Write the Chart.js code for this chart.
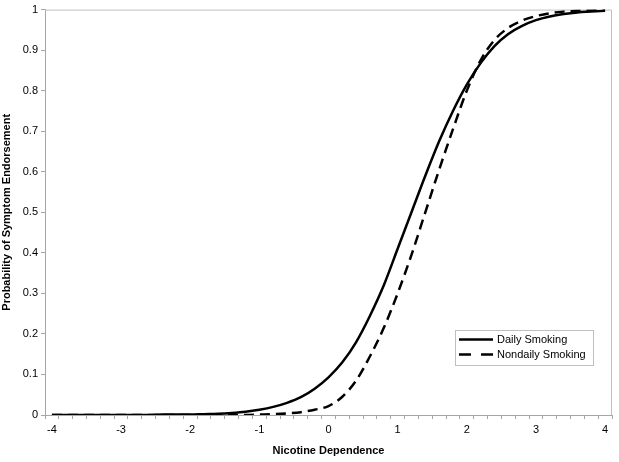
<!DOCTYPE html>
<html>
<head>
<meta charset="utf-8">
<script src="https://cdn.jsdelivr.net/npm/chart.js@4/dist/chart.umd.min.js"></script>
<style>
    html, body { margin: 0; padding: 0; background: #fff; }
    #wrap { width: 619px; height: 462px; position: relative; }
</style>
</head>
<body>
<div id="wrap"><canvas id="curveChart"></canvas></div>
<script>
// categories on the x axis (nicotine dependence, step 0.2)
const categories = [
    -4, -3.8, -3.6, -3.4, -3.2, -3, -2.8, -2.6, -2.4, -2.2,
    -2, -1.8, -1.6, -1.4, -1.2, -1, -0.8, -0.6, -0.4, -0.2,
    0, 0.2, 0.4, 0.6, 0.8, 1, 1.2, 1.4, 1.6, 1.8,
    2, 2.2, 2.4, 2.6, 2.8, 3, 3.2, 3.4, 3.6, 3.8, 4
];

// probability of symptom endorsement
const dailySmoking = [
    0.000, 0.000, 0.000, 0.000, 0.000, 0.000, 0.000, 0.000, 0.001, 0.001,
    0.001, 0.002, 0.003, 0.005, 0.008, 0.013, 0.020, 0.030, 0.044, 0.065,
    0.093, 0.130, 0.180, 0.245, 0.320, 0.410, 0.500, 0.590, 0.675, 0.750,
    0.815, 0.868, 0.910, 0.940, 0.960, 0.974, 0.983, 0.989, 0.993, 0.995, 0.997
];
const nondailySmoking = [
    0.000, 0.000, 0.000, 0.000, 0.000, 0.000, 0.000, 0.000, 0.000, 0.000,
    0.000, 0.000, 0.000, 0.000, 0.000, 0.001, 0.002, 0.004, 0.007, 0.013,
    0.022, 0.045, 0.085, 0.145, 0.215, 0.300, 0.395, 0.500, 0.605, 0.705,
    0.800, 0.875, 0.925, 0.955, 0.973, 0.984, 0.991, 0.995, 0.997, 0.998, 0.999
];

// only every fifth category gets a label
const xTickLabels = ['-4', '-3', '-2', '-1', '0', '1', '2', '3', '4'];
const yTickLabels = ['0', '0.1', '0.2', '0.3', '0.4', '0.5', '0.6', '0.7', '0.8', '0.9', '1'];

const FONT = '"Liberation Sans", Arial, sans-serif';
const AXIS_GREY = '#a6a6a6';

// legend box drawn inside the plot, Excel style
const boxLegend = {
    id: 'boxLegend',
    afterDraw(chart) {
        const ctx = chart.ctx;
        const x = 455, y = 330, w = 138, h = 35;
        ctx.save();
        ctx.fillStyle = '#fff';
        ctx.fillRect(x, y, w, h);
        ctx.strokeStyle = '#bfbfbf';
        ctx.lineWidth = 1;
        ctx.strokeRect(x + 0.5, y + 0.5, w, h);

        ctx.font = '11px ' + FONT;
        ctx.textBaseline = 'middle';
        ctx.fillStyle = '#000';
        chart.data.datasets.forEach((ds, i) => {
            const ly = y + 9.5 + i * 15;
            ctx.beginPath();
            ctx.strokeStyle = ds.borderColor;
            ctx.lineWidth = ds.borderWidth;
            ctx.setLineDash(i === 1 ? [12, 10] : []);
            ctx.moveTo(x + 4, ly);
            ctx.lineTo(x + 38, ly);
            ctx.stroke();
            ctx.setLineDash([]);
            ctx.fillText(ds.label, x + 42, ly);
        });
        ctx.restore();
    }
};

// grey border on top and right of the plot area
const plotFrame = {
    id: 'plotFrame',
    beforeDatasetsDraw(chart) {
        const a = chart.chartArea, ctx = chart.ctx;
        ctx.save();
        ctx.strokeStyle = '#bfbfbf';
        ctx.lineWidth = 1;
        ctx.beginPath();
        ctx.moveTo(a.left, a.top + 0.5);
        ctx.lineTo(a.right - 0.5, a.top + 0.5);
        ctx.lineTo(a.right - 0.5, a.bottom);
        ctx.stroke();
        ctx.restore();
    }
};

document.addEventListener('DOMContentLoaded', () => {
    const chartCtx = document.getElementById('curveChart');
    new Chart(chartCtx, {
        type: 'line',
        data: {
            labels: categories,
            datasets: [{
                label: 'Daily Smoking',
                data: dailySmoking,
                borderColor: '#000',
                borderWidth: 2.5,
                pointRadius: 0,
                cubicInterpolationMode: 'monotone'
            }, {
                label: 'Nondaily Smoking',
                data: nondailySmoking,
                borderColor: '#000',
                borderWidth: 2.5,
                borderDash: [10, 6],
                pointRadius: 0,
                cubicInterpolationMode: 'monotone'
            }]
        },
        options: {
            responsive: true,
            maintainAspectRatio: false,
            animation: false,
            layout: { padding: { top: 9, right: 7, left: 0, bottom: 0 } },
            plugins: {
                legend: { display: false },
                tooltip: { enabled: false }
            },
            scales: {
                x: {
                    type: 'category',
                    offset: true,
                    grid: {
                        offset: true,
                        drawOnChartArea: false,
                        drawTicks: true,
                        tickLength: 4,
                        color: AXIS_GREY
                    },
                    border: { color: AXIS_GREY },
                    ticks: {
                        autoSkip: false,
                        maxRotation: 0,
                        padding: 4,
                        color: '#000',
                        font: { family: FONT, size: 11 },
                        callback: (v, i) => (i % 5 === 0 ? xTickLabels[i / 5] : '')
                    },
                    title: {
                        display: true,
                        text: 'Nicotine Dependence',
                        color: '#000',
                        font: { family: FONT, size: 11, weight: 'bold' },
                        padding: { top: 4 }
                    },
                    afterFit: (s) => { s.height = 47; }
                },
                y: {
                    min: 0,
                    max: 1,
                    grid: {
                        drawOnChartArea: false,
                        drawTicks: true,
                        tickLength: 4,
                        color: AXIS_GREY
                    },
                    border: { color: AXIS_GREY },
                    ticks: {
                        stepSize: 0.1,
                        padding: 3,
                        color: '#000',
                        font: { family: FONT, size: 11 },
                        callback: (v, i) => yTickLabels[i]
                    },
                    title: {
                        display: true,
                        text: 'Probability of Symptom Endorsement',
                        color: '#000',
                        font: { family: FONT, size: 11, weight: 'bold' },
                        padding: { top: 0, bottom: 0 }
                    },
                    afterFit: (s) => { s.width = 45; }
                }
            }
        },
        plugins: [plotFrame, boxLegend]
    });
});
</script>
</body>
</html>
